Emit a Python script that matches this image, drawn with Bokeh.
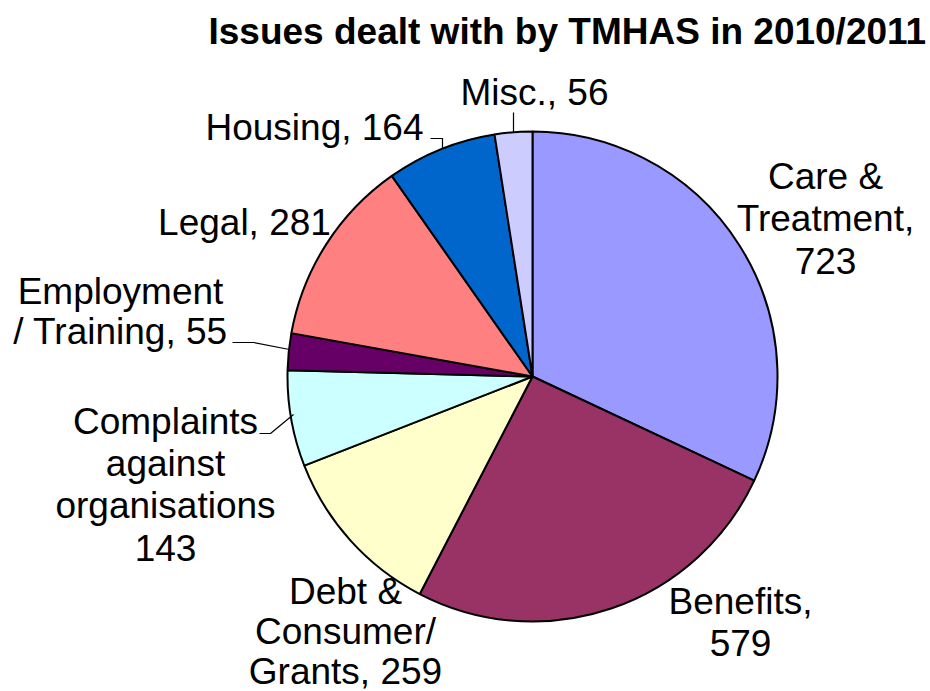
import math
from bokeh.plotting import figure
from bokeh.models import Range1d, ColumnDataSource
from bokeh.core.properties import value
from bokeh.embed import file_html
from bokeh.resources import INLINE

# ---- data ----
categories = ["Care & Treatment", "Benefits", "Debt & Consumer/ Grants",
              "Complaints against organisations", "Employment / Training",
              "Legal", "Housing", "Misc."]
counts = [723, 579, 259, 143, 55, 281, 164, 56]
label_formats = ["Care &\nTreatment,\n{v}", "Benefits,\n{v}", "Debt &\nConsumer/\nGrants, {v}",
                 "Complaints\nagainst\norganisations\n{v}", "Employment\n/ Training, {v}",
                 "Legal, {v}", "Housing, {v}", "Misc., {v}"]
colors = ["#9999FF", "#993366", "#FFFFCC", "#CCFFFF", "#660066", "#FF8080", "#0066CC", "#CCCCFF"]
title_text = "Issues dealt with by TMHAS in 2010/2011"

# ---- layout (pixel coordinates, y down) ----
W, H = 930, 691
CX, CY, R = 532, 376, 245
BASE_SHIFT = 11
label_pos = [(825, 187, 42), (740, 612, 41), (345, 602, 40), (165, 432, 42),
             (120, 302, 40), (244, 233, 0), (314, 138, 0), (534, 103, 0)]
leaders = [
    ([430, 442, 442], [138, 138, 148]),   # Housing
    ([513, 513], [112, 132]),             # Misc
    ([232, 253, 289], [342, 342, 349]),   # Employment
    ([259, 270, 293], [433, 433, 414]),   # Complaints
]

def Y(py):
    return H - py

p = figure(width=W, height=H, x_range=Range1d(0, W), y_range=Range1d(0, H),
           output_backend="svg", toolbar_location=None,
           x_axis_location=None, y_axis_location=None, min_border=0)
p.grid.visible = False
p.outline_line_color = None
p.background_fill_color = "white"
p.border_fill_color = "white"

total = float(sum(counts))
starts, ends = [], []
cum = 0.0
for c in counts:
    starts.append(math.pi / 2 - cum / total * 2 * math.pi)
    cum += c
    ends.append(math.pi / 2 - cum / total * 2 * math.pi)

src = ColumnDataSource(dict(x=[CX] * len(counts), y=[Y(CY)] * len(counts),
                            start=starts, end=ends, color=colors, cat=categories, n=counts))
p.wedge(x="x", y="y", radius=R, start_angle="start", end_angle="end", direction="clock",
        fill_color="color", line_color="black", line_width=2, source=src)

# leader lines
for xs, ys in leaders:
    p.line(xs, [Y(v) for v in ys], line_color="black", line_width=1.2)

# labels
tx, ty, tt = [], [], []
for fmt, n, (lx, ly, step) in zip(label_formats, counts, label_pos):
    for i, line in enumerate(fmt.format(v=n).split("\n")):
        tx.append(lx)
        ty.append(Y(ly + i * step - BASE_SHIFT))
        tt.append(line)
p.text(x=tx, y=ty, text=tt, text_font=value("Liberation Sans"), text_font_size="37px",
       text_align="center", text_baseline="alphabetic", text_color="black")

# title
p.text(x=[208], y=[Y(42 - BASE_SHIFT)], text=[title_text], text_font=value("Liberation Sans"),
       text_font_size="37px", text_font_style="bold", text_align="left",
       text_baseline="alphabetic", text_color="black")

open("out.html", "w").write(file_html(p, INLINE))
